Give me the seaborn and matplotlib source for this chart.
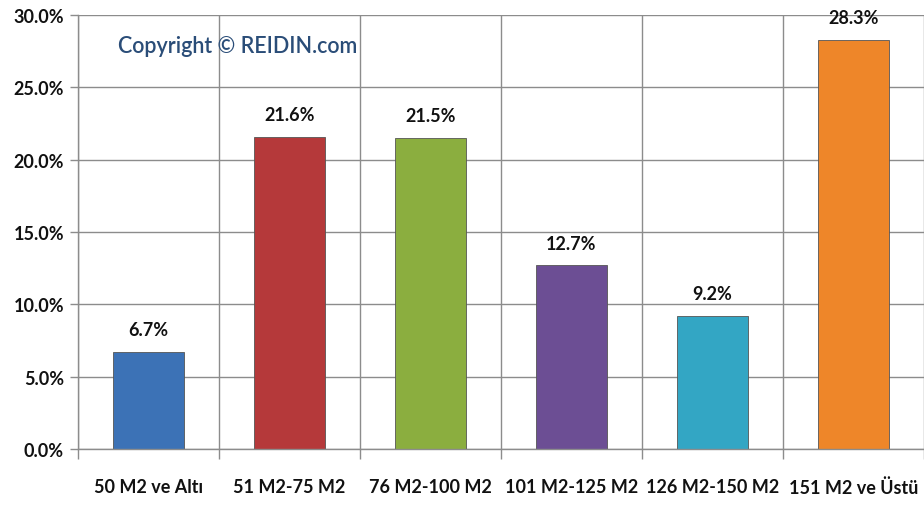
import matplotlib
matplotlib.use('Agg')
import matplotlib.pyplot as plt
import seaborn as sns
import pandas as pd
from matplotlib.ticker import FixedLocator, PercentFormatter

# Veriler
kategoriler = ['50 M2 ve Altı', '51 M2-75 M2', '76 M2-100 M2',
               '101 M2-125 M2', '126 M2-150 M2', '151 M2 ve Üstü']
oranlar = [6.7, 21.6, 21.5, 12.7, 9.2, 28.3]
renkler = ['#3C72B6', '#B5393A', '#8BAE3F', '#6C4E94', '#33A6C4', '#EE8629']
y_ticks = [0, 5, 10, 15, 20, 25, 30]

sns.set_theme(style='white')
plt.rcParams['font.family'] = ['Lato', 'DejaVu Sans']

df = pd.DataFrame({'Kategori': kategoriler, 'Oran': oranlar})

fig = plt.figure(figsize=(9.24, 5.06), dpi=100)
ax = fig.add_axes([0.0844, 0.1107, 0.9156, 0.8573])

sns.barplot(data=df, x='Kategori', y='Oran', hue='Kategori', palette=renkler,
            legend=False, width=0.51, saturation=1, ax=ax,
            edgecolor='#555555', linewidth=0.6)

ax.set_ylim(0, 30)
ax.set_xlim(-0.5, len(kategoriler) - 0.5)
ax.yaxis.set_major_locator(FixedLocator(y_ticks))
ax.yaxis.set_major_formatter(PercentFormatter(decimals=1))

# Kategori sınırlarında dikey çizgiler
ax.xaxis.set_minor_locator(FixedLocator([i + 0.5 for i in range(-1, len(kategoriler))]))
ax.grid(axis='y', which='major', color='#8c8c8c', linewidth=1)
ax.grid(axis='x', which='minor', color='#8c8c8c', linewidth=1)
ax.set_axisbelow(True)

ax.tick_params(axis='x', which='major', length=0, pad=21)
ax.tick_params(axis='x', which='minor', length=7, color='#8c8c8c', width=1, bottom=True)
ax.tick_params(axis='y', length=6, color='#8c8c8c', width=1, left=True, pad=4)

for lbl in ax.get_xticklabels() + ax.get_yticklabels():
    lbl.set_fontsize(13)
    lbl.set_fontweight('bold')
    lbl.set_color('#111111')

for s in ['top', 'right']:
    ax.spines[s].set_visible(False)
for s in ['left', 'bottom']:
    ax.spines[s].set_color('#8c8c8c')
    ax.spines[s].set_linewidth(1)

ax.set_xlabel('')
ax.set_ylabel('')

# Değer etiketleri
for i, v in enumerate(oranlar):
    ax.annotate(f'{v:.1f}%', (i, v), xytext=(0, 16), textcoords='offset points',
                ha='center', va='center', fontsize=13, fontweight='bold',
                color='#111111', annotation_clip=False)

ax.text(0.63, 27.9, 'Copyright © REIDIN.com', fontsize=15.5, color='#2A4D78',
        fontweight='semibold', ha='center', va='center')

fig.savefig('out.png', dpi=100)
